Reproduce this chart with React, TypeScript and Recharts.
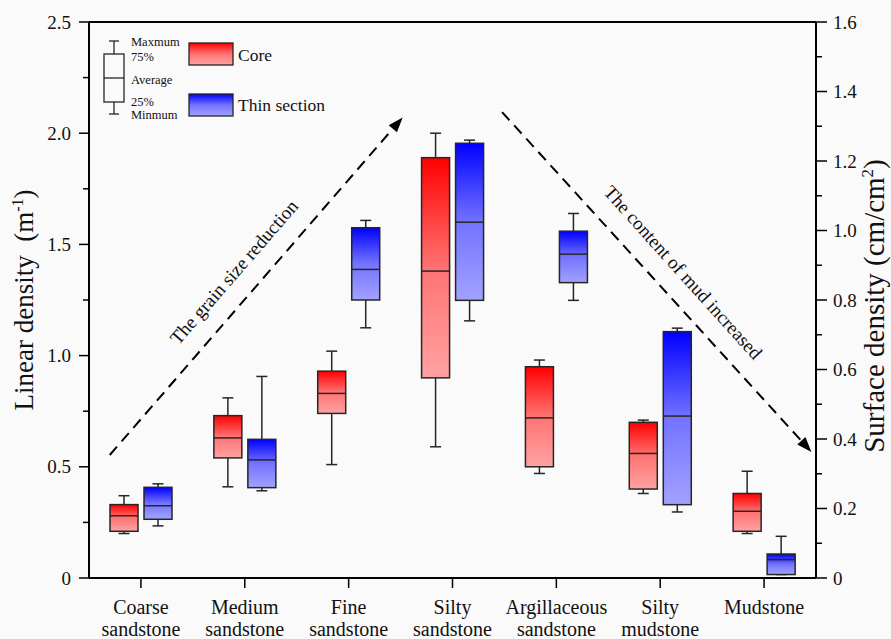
import { ComposedChart, Bar, XAxis, YAxis, ReferenceLine, ReferenceDot, Legend } from 'recharts';

const FONT = '"Liberation Serif", "Times New Roman", serif';

const categories = [
  'Coarse\nsandstone',
  'Medium\nsandstone',
  'Fine\nsandstone',
  'Silty\nsandstone',
  'Argillaceous\nsandstone',
  'Silty\nmudstone',
  'Mudstone',
];

// Core – linear density (m-1), left axis
const coreMin = [0.2, 0.41, 0.51, 0.59, 0.47, 0.38, 0.2];
const coreQ1 = [0.21, 0.54, 0.74, 0.9, 0.5, 0.4, 0.21];
const coreMedian = [0.28, 0.63, 0.83, 1.38, 0.72, 0.56, 0.3];
const coreQ3 = [0.33, 0.73, 0.93, 1.89, 0.95, 0.7, 0.38];
const coreMax = [0.37, 0.81, 1.02, 2.0, 0.98, 0.71, 0.48];

// Thin section – surface density (cm/cm2), right axis
const thinMin = [0.15, 0.251, 0.72, 0.74, 0.799, 0.19, 0.01];
const thinQ1 = [0.169, 0.26, 0.8, 0.799, 0.85, 0.211, 0.01];
const thinMedian = [0.208, 0.34, 0.888, 1.024, 0.932, 0.466, 0.053];
const thinQ3 = [0.261, 0.399, 1.008, 1.251, 0.998, 0.709, 0.069];
const thinMax = [0.271, 0.58, 1.029, 1.26, 1.049, 0.719, 0.12];

const seriesNames = ['Core', 'Thin section'];
const boxLegendLabels = ['Maxmum', '75%', 'Average', '25%', 'Minmum'];

const leftTicks = [0, 0.25, 0.5, 0.75, 1, 1.25, 1.5, 1.75, 2, 2.25, 2.5];
const rightTicks = [0, 0.1, 0.2, 0.3, 0.4, 0.5, 0.6, 0.7, 0.8, 0.9, 1.0, 1.1, 1.2, 1.3, 1.4, 1.5, 1.6];

// annotation arrows, in (position along the category axis 0..7, left axis) units
const arrowUp = [{ x: 0.2, y: 0.553 }, { x: 3.02, y: 2.071 }];
const arrowDown = [{ x: 3.977, y: 2.095 }, { x: 6.956, y: 0.567 }];
const arrowTexts = [
  { x: 1.396, y: 1.376, angle: -49, text: 'The grain size reduction' },
  { x: 5.72, y: 1.374, angle: 48, text: 'The content of mud increased' },
];

const data = categories.map((name, i) => ({
  name,
  pos: i + 0.5,
  core: [coreQ1[i], coreQ3[i]],
  thin: [thinQ1[i], thinQ3[i]],
  coreStats: { min: coreMin[i], q1: coreQ1[i], med: coreMedian[i], q3: coreQ3[i], max: coreMax[i] },
  thinStats: { min: thinMin[i], q1: thinQ1[i], med: thinMedian[i], q3: thinQ3[i], max: thinMax[i] },
}));

const STROKE = '#262626';

const renderBox = (props: any, key: 'coreStats' | 'thinStats', grad: string) => {
  const { x, y, width, height, payload } = props;
  const s = payload[key];
  const top = Math.min(y, y + height);
  const h = Math.abs(height);
  const ppu = h / (s.q3 - s.q1);
  const yOf = (v: number) => top + (s.q3 - v) * ppu;
  const cx = x + width / 2;
  const cap = 5.5;
  return (
    <g>
      <line x1={cx} x2={cx} y1={yOf(s.q3)} y2={yOf(s.max)} stroke={STROKE} strokeWidth={1.5} />
      <line x1={cx - cap} x2={cx + cap} y1={yOf(s.max)} y2={yOf(s.max)} stroke={STROKE} strokeWidth={1.5} />
      <line x1={cx} x2={cx} y1={yOf(s.q1)} y2={yOf(s.min)} stroke={STROKE} strokeWidth={1.5} />
      <line x1={cx - cap} x2={cx + cap} y1={yOf(s.min)} y2={yOf(s.min)} stroke={STROKE} strokeWidth={1.5} />
      <rect x={x} y={top} width={width} height={h} fill={`url(#${grad})`} stroke={STROKE} strokeWidth={1.5} />
      <line x1={x} x2={x + width} y1={yOf(s.med)} y2={yOf(s.med)} stroke={STROKE} strokeWidth={1.5} />
    </g>
  );
};

const LeftTick = (props: any) => {
  const { x, y, payload } = props;
  const v = payload.value;
  const major = Math.round(v * 100) % 50 === 0;
  return (
    <g>
      <line x1={x} x2={x - (major ? 10 : 6)} y1={y} y2={y} stroke="#000" strokeWidth={1.5} />
      {major && (
        <text x={x - 18} y={y} textAnchor="end" dominantBaseline="central" fontSize={19} fontFamily={FONT} fill="#111">
          {v === 0 ? '0' : v.toFixed(1)}
        </text>
      )}
    </g>
  );
};

const RightTick = (props: any) => {
  const { x, y, payload } = props;
  const v = payload.value;
  const major = Math.round(v * 10) % 2 === 0;
  return (
    <g>
      <line x1={x} x2={x + (major ? 11 : 6)} y1={y} y2={y} stroke="#000" strokeWidth={1.5} />
      {major && (
        <text x={x + 17} y={y} textAnchor="start" dominantBaseline="central" fontSize={19} fontFamily={FONT} fill="#111">
          {v === 0 ? '0' : v.toFixed(1)}
        </text>
      )}
    </g>
  );
};

const CategoryTick = (props: any) => {
  const { x, y, payload } = props;
  const lines = String(payload.value).split('\n');
  return (
    <g>
      <line x1={x} x2={x} y1={y} y2={y + 10} stroke="#000" strokeWidth={1.5} />
      <text textAnchor="middle" fontSize={20} fontFamily={FONT} fill="#111">
        {lines.map((l, i) => (
          <tspan key={i} x={x} y={y + 36 + i * 22}>
            {l}
          </tspan>
        ))}
      </text>
    </g>
  );
};

const arrowShape = (props: any) => {
  const { x1, y1, x2, y2 } = props;
  const ang = Math.atan2(y2 - y1, x2 - x1);
  const len = 15;
  const half = 5.5;
  const bx = x2 - len * Math.cos(ang);
  const by = y2 - len * Math.sin(ang);
  const px = -Math.sin(ang) * half;
  const py = Math.cos(ang) * half;
  return (
    <g>
      <line x1={x1} y1={y1} x2={bx} y2={by} stroke="#000" strokeWidth={2} strokeDasharray="11 7" />
      <polygon points={`${x2},${y2} ${bx + px},${by + py} ${bx - px},${by - py}`} fill="#000" />
    </g>
  );
};

const renderLegend = () => (
  <svg width={360} height={130} style={{ display: 'block' }}>
    <line x1={114} x2={114} y1={41} y2={54} stroke={STROKE} strokeWidth={1.3} />
    <line x1={109} x2={119} y1={41} y2={41} stroke={STROKE} strokeWidth={1.3} />
    <rect x={104} y={54} width={20} height={48} fill="none" stroke={STROKE} strokeWidth={1.3} />
    <line x1={104} x2={124} y1={78} y2={78} stroke={STROKE} strokeWidth={1.3} />
    <line x1={114} x2={114} y1={102} y2={114} stroke={STROKE} strokeWidth={1.3} />
    <line x1={109} x2={119} y1={114} y2={114} stroke={STROKE} strokeWidth={1.3} />
    {boxLegendLabels.map((t, i) => (
      <text key={t} x={131} y={[42, 57, 80, 102, 115][i]} dominantBaseline="central" fontSize={12.5} fontFamily={FONT} fill="#111">
        {t}
      </text>
    ))}
    {seriesNames.map((n, i) => (
      <g key={n}>
        <rect x={189} y={43 + i * 51} width={44} height={22} fill={`url(#${i === 0 ? 'coreGrad' : 'thinGrad'})`} stroke={STROKE} strokeWidth={1.3} />
        <text x={238} y={55 + i * 50} dominantBaseline="central" fontSize={17.5} fontFamily={FONT} fill="#111">
          {n}
        </text>
      </g>
    ))}
  </svg>
);

const leftLabel = () => (
  <text transform="translate(33,300) rotate(-90)" textAnchor="middle" fontSize={27} fontFamily={FONT} fill="#111" style={{ whiteSpace: 'pre' }}>
    Linear density  (m<tspan dy={-10} fontSize={16}>-1</tspan><tspan dy={10}>)</tspan>
  </text>
);

const rightLabel = () => (
  <text transform="translate(884,306) rotate(-90)" textAnchor="middle" fontSize={29} fontFamily={FONT} fill="#111">
    Surface density (cm/cm<tspan dy={-11} fontSize={17}>2</tspan><tspan dy={11}>)</tspan>
  </text>
);

export default function App() {
  return (
    <div style={{ position: 'absolute', left: 0, top: 0, width: 891, height: 639, background: '#fafafa', overflow: 'hidden' }}>
      <svg width={0} height={0} style={{ position: 'absolute' }}>
        <defs>
          <linearGradient id="coreGrad" x1="0" y1="0" x2="0" y2="1">
            <stop offset="0%" stopColor="#ff0000" />
            <stop offset="50%" stopColor="#ff7373" />
            <stop offset="100%" stopColor="#ffa2a2" />
          </linearGradient>
          <linearGradient id="thinGrad" x1="0" y1="0" x2="0" y2="1">
            <stop offset="0%" stopColor="#0000ff" />
            <stop offset="50%" stopColor="#7373ff" />
            <stop offset="100%" stopColor="#a2a2ff" />
          </linearGradient>
        </defs>
      </svg>
      <ComposedChart width={891} height={639} data={data} margin={{ top: 22, right: 0, bottom: 0, left: 0 }} barSize={28} barGap={6}>
        <XAxis dataKey="name" height={61} interval={0} tickSize={0} tickMargin={0} tickLine={false} axisLine={{ stroke: '#000', strokeWidth: 2 }} tick={<CategoryTick />} />
        <XAxis xAxisId="num" dataKey="pos" type="number" domain={[0, 7]} hide allowDataOverflow />
        <YAxis yAxisId="left" domain={[0, 2.5]} ticks={leftTicks} interval={0} width={89} tickSize={0} tickMargin={0} tickLine={false} axisLine={{ stroke: '#000', strokeWidth: 2 }} tick={<LeftTick />} label={leftLabel} allowDataOverflow />
        <YAxis yAxisId="right" orientation="right" domain={[0, 1.6]} ticks={rightTicks} interval={0} width={75} tickSize={0} tickMargin={0} tickLine={false} axisLine={{ stroke: '#000', strokeWidth: 2 }} tick={<RightTick />} label={rightLabel} allowDataOverflow />
        <ReferenceLine yAxisId="left" y={2.5} stroke="#000" strokeWidth={2} />
        <Legend layout="vertical" verticalAlign="middle" align="center" content={renderLegend} wrapperStyle={{ left: 0, top: 0, width: 360, height: 130 }} />
        <Bar yAxisId="left" dataKey="core" name={seriesNames[0]} fill="#ff4040" isAnimationActive={false} shape={(p: any) => renderBox(p, 'coreStats', 'coreGrad')} />
        <Bar yAxisId="right" dataKey="thin" name={seriesNames[1]} fill="#4040ff" isAnimationActive={false} shape={(p: any) => renderBox(p, 'thinStats', 'thinGrad')} />
        <ReferenceLine xAxisId="num" yAxisId="left" segment={arrowUp} shape={arrowShape} ifOverflow="visible" />
        <ReferenceLine xAxisId="num" yAxisId="left" segment={arrowDown} shape={arrowShape} ifOverflow="visible" />
        {arrowTexts.map((a) => (
          <ReferenceDot
            key={a.text}
            xAxisId="num"
            yAxisId="left"
            x={a.x}
            y={a.y}
            r={0}
            ifOverflow="visible"
            shape={(p: any) => (
              <text x={p.cx} y={p.cy} transform={`rotate(${a.angle} ${p.cx} ${p.cy})`} textAnchor="middle" dominantBaseline="central" fontSize={19} fontFamily={FONT} fill="#111">
                {a.text}
              </text>
            )}
          />
        ))}
      </ComposedChart>
    </div>
  );
}
